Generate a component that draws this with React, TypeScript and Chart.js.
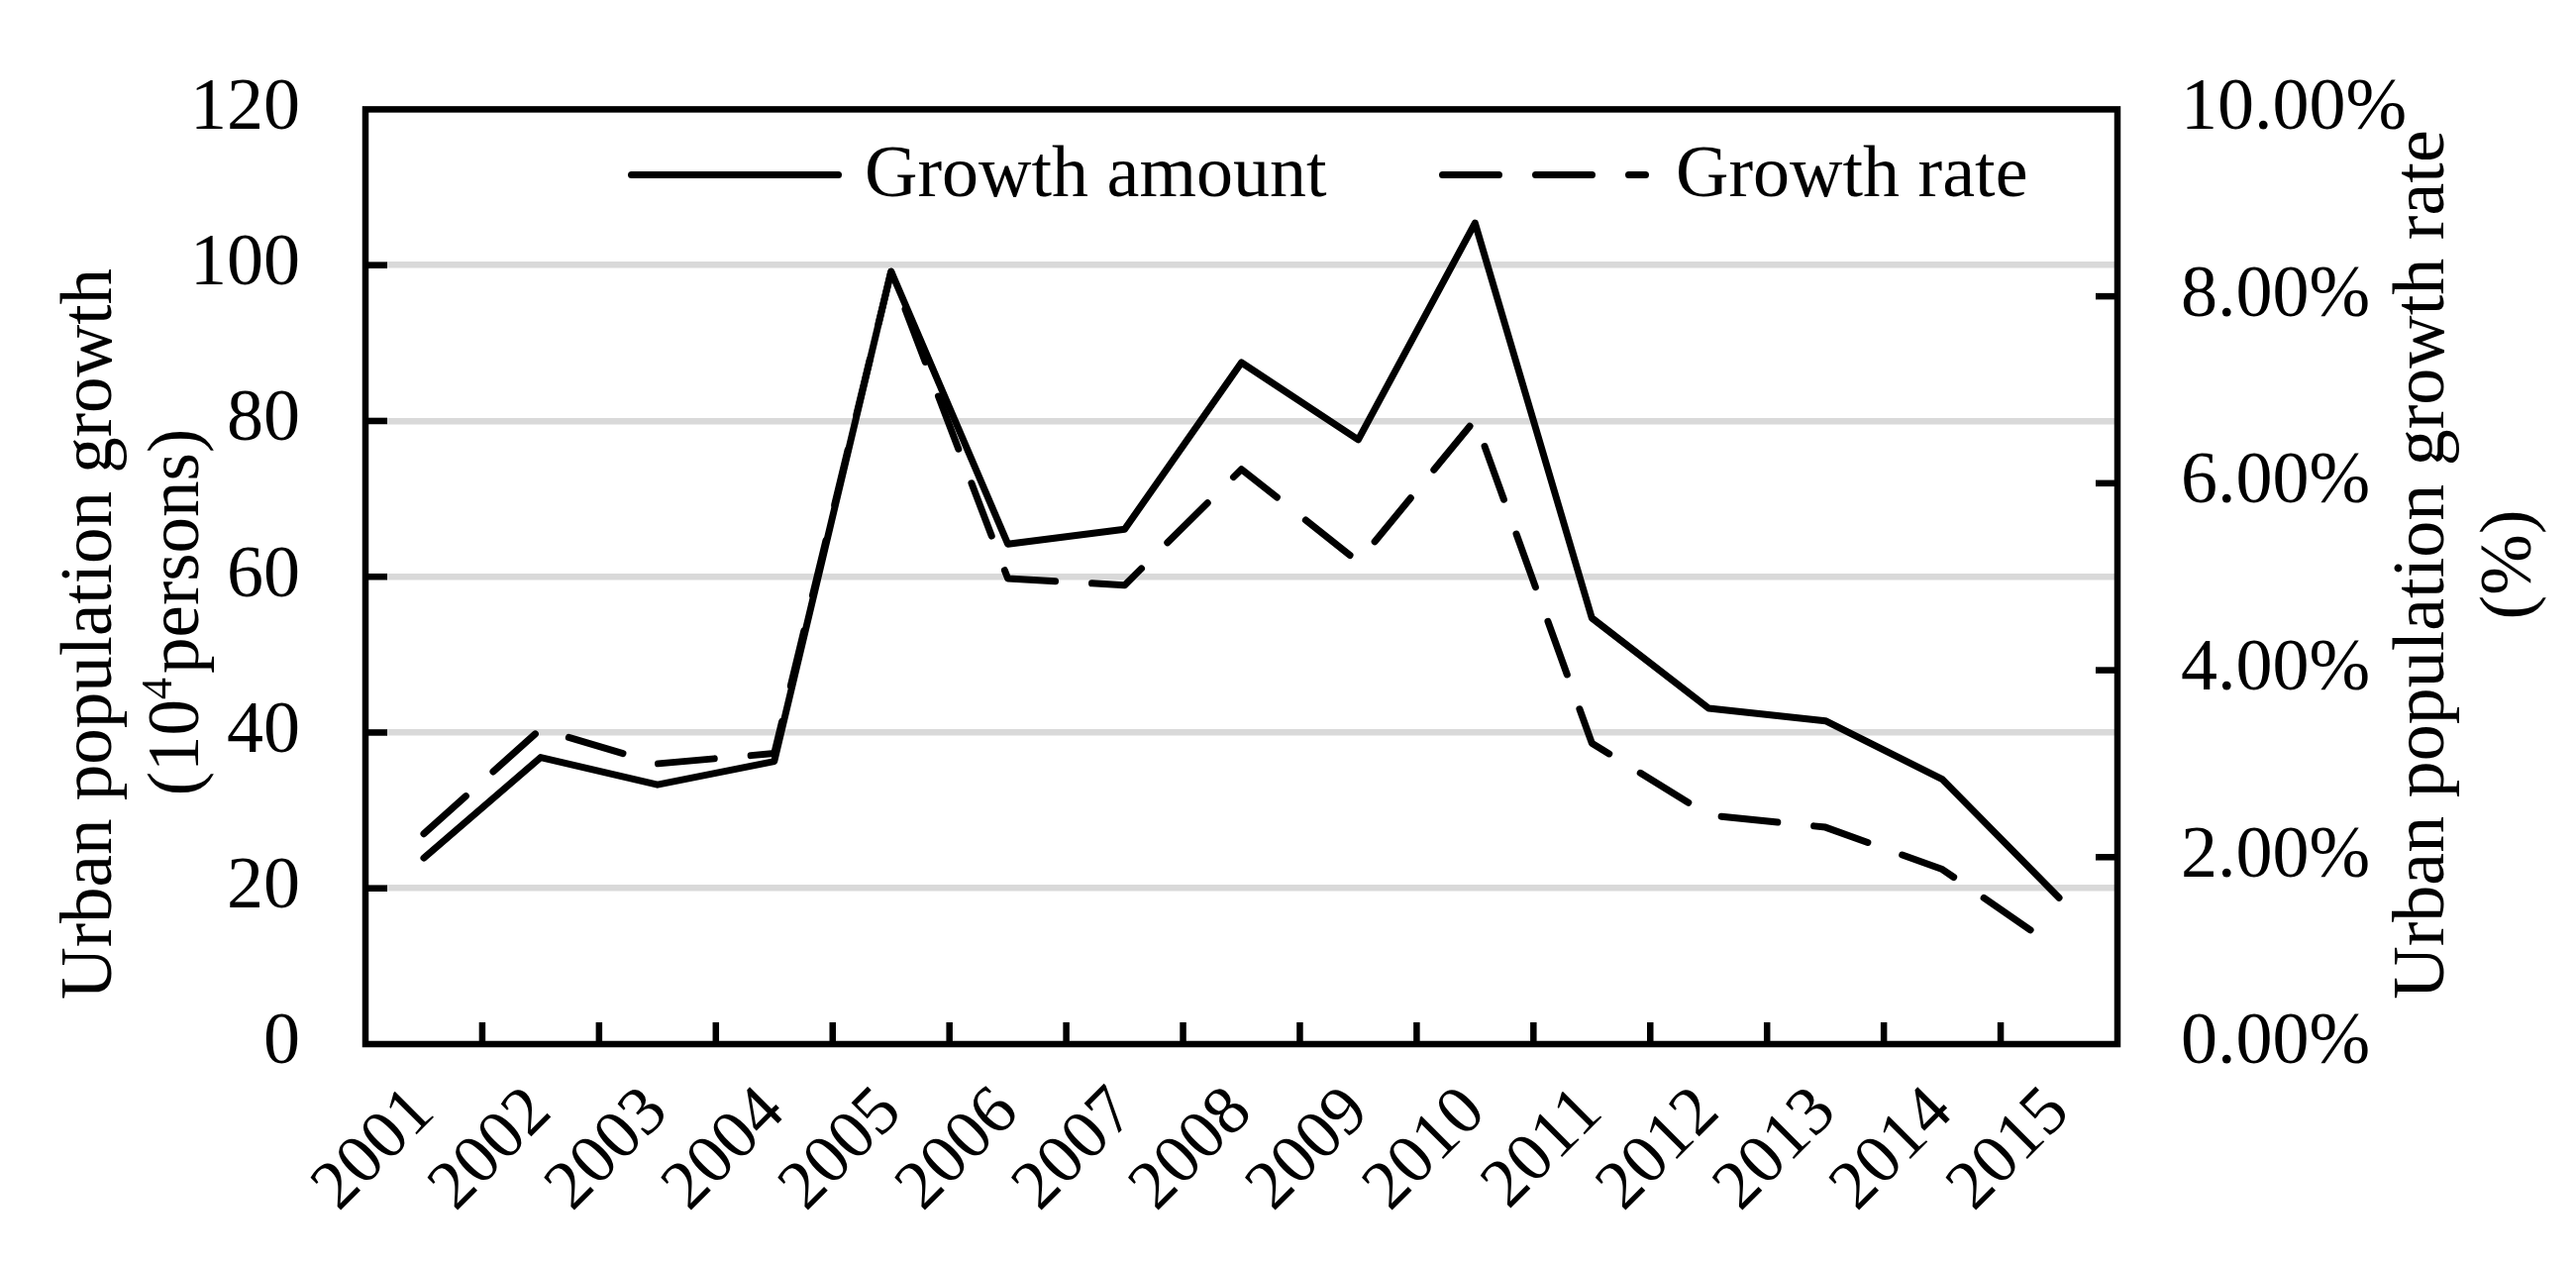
import React, { useEffect, useRef } from 'react';
import { Chart, registerables } from 'chart.js';

Chart.register(...registerables);

// ---------- data ----------
const years = ['2001', '2002', '2003', '2004', '2005', '2006', '2007', '2008', '2009', '2010', '2011', '2012', '2013', '2014', '2015'];
const growthAmount = [23.9, 36.8, 33.3, 36.3, 99.2, 64.2, 66.1, 87.5, 77.6, 105.4, 54.7, 43.1, 41.5, 34.0, 18.8];
const growthRate = [2.25, 3.37, 3.0, 3.11, 8.26, 4.98, 4.91, 6.15, 5.16, 6.68, 3.22, 2.45, 2.32, 1.87, 1.01];
const seriesLabels = ['Growth amount', 'Growth rate'];
const leftAxisRange = [0, 120, 20];
const rightAxisRange = [0, 10, 2];
const leftTitleLine1 = 'Urban population growth';
const leftTitleLine2 = ['(10', '4', 'persons)'];
const rightTitleLines = ['Urban population growth rate', '(%)'];

const FONT = "'Liberation Serif', 'Times New Roman', serif";
const W = 2601;
const H = 1279;

const overlayPlugin = {
  id: 'overlay',
  afterDatasetsDraw(chart: any) {
    const { ctx, chartArea: ca, scales } = chart;
    const sx = scales.x;
    const sy = scales.y;
    const sy1 = scales.y1;
    const TL = 22;
    ctx.save();
    ctx.strokeStyle = '#000';
    ctx.lineWidth = 6.5;
    ctx.lineCap = 'butt';
    ctx.setLineDash([]);
    const seg = (x1: number, y1: number, x2: number, y2: number) => {
      ctx.beginPath();
      ctx.moveTo(x1, y1);
      ctx.lineTo(x2, y2);
      ctx.stroke();
    };
    sy.ticks.forEach((t: any) => {
      if (t.value > sy.min && t.value < sy.max) {
        const p = sy.getPixelForValue(t.value);
        seg(ca.left, p, ca.left + TL, p);
      }
    });
    sy1.ticks.forEach((t: any) => {
      if (t.value > sy1.min && t.value < sy1.max) {
        const p = sy1.getPixelForValue(t.value);
        seg(ca.right - TL, p, ca.right, p);
      }
    });
    for (let i = 1; i < years.length; i++) {
      const p = (sx.getPixelForValue(i - 1) + sx.getPixelForValue(i)) / 2;
      seg(p, ca.bottom - TL, p, ca.bottom);
    }
    ctx.lineJoin = 'miter';
    ctx.strokeRect(ca.left, ca.top, ca.right - ca.left, ca.bottom - ca.top);
    ctx.restore();
  },
  afterDraw(chart: any) {
    const { ctx, chartArea: ca } = chart;
    ctx.save();
    ctx.fillStyle = '#000';
    ctx.strokeStyle = '#000';

    // legend
    const ds = chart.data.datasets;
    const legendY = ca.top + 66;
    const textBase = ca.top + 88;
    const items = [
      { x1: 637.5, x2: 846.5, tx: 873 },
      { x1: 1456.5, x2: 1661.5, tx: 1692 },
    ];
    ctx.font = `74px ${FONT}`;
    ctx.textAlign = 'left';
    ctx.textBaseline = 'alphabetic';
    items.forEach((it, i) => {
      const d = ds[i];
      ctx.lineWidth = d.borderWidth;
      ctx.lineCap = 'round';
      ctx.setLineDash(d.borderDash || []);
      ctx.beginPath();
      ctx.moveTo(it.x1, legendY);
      ctx.lineTo(it.x2, legendY);
      ctx.stroke();
      ctx.setLineDash([]);
      ctx.fillText(d.label, it.tx, textBase);
    });

    // left axis title
    ctx.font = `73px ${FONT}`;
    ctx.save();
    ctx.translate(112, 640);
    ctx.rotate(-Math.PI / 2);
    ctx.textAlign = 'center';
    ctx.fillText(leftTitleLine1, 0, 0);
    ctx.restore();

    ctx.save();
    ctx.translate(200, 618);
    ctx.rotate(-Math.PI / 2);
    ctx.textAlign = 'left';
    ctx.font = `73px ${FONT}`;
    const wA = ctx.measureText(leftTitleLine2[0]).width;
    const wC = ctx.measureText(leftTitleLine2[2]).width;
    ctx.font = `44px ${FONT}`;
    const wB = ctx.measureText(leftTitleLine2[1]).width;
    const total = wA + wB + 4 + wC;
    let cx = -total / 2;
    ctx.font = `73px ${FONT}`;
    ctx.fillText(leftTitleLine2[0], cx, 0);
    cx += wA;
    ctx.font = `44px ${FONT}`;
    ctx.fillText(leftTitleLine2[1], cx, -27);
    cx += wB + 4;
    ctx.font = `73px ${FONT}`;
    ctx.fillText(leftTitleLine2[2], cx, 0);
    ctx.restore();

    // right axis title
    ctx.font = `74px ${FONT}`;
    ctx.textAlign = 'center';
    const rx = [2467, 2555];
    rightTitleLines.forEach((t, i) => {
      ctx.save();
      ctx.translate(rx[i], 570);
      ctx.rotate(-Math.PI / 2);
      ctx.fillText(t, 0, 0);
      ctx.restore();
    });
    ctx.restore();
  },
};

export default function App() {
  const ref = useRef<HTMLCanvasElement | null>(null);

  useEffect(() => {
    document.body.style.margin = '0';
    document.body.style.overflow = 'hidden';
    const canvas = ref.current;
    if (!canvas) return;
    Chart.defaults.font.family = FONT;
    Chart.defaults.color = '#000';
    const chart = new Chart(canvas, {
      type: 'line',
      data: {
        labels: years,
        datasets: [
          {
            label: seriesLabels[0],
            data: growthAmount,
            yAxisID: 'y',
            borderColor: '#000',
            backgroundColor: '#000',
            borderWidth: 7,
            pointRadius: 0,
            tension: 0,
            fill: false,
            borderJoinStyle: 'round',
            borderCapStyle: 'round',
          },
          {
            label: seriesLabels[1],
            data: growthRate,
            yAxisID: 'y1',
            borderColor: '#000',
            backgroundColor: '#000',
            borderWidth: 7,
            borderDash: [57, 37],
            pointRadius: 0,
            tension: 0,
            fill: false,
            borderJoinStyle: 'round',
            borderCapStyle: 'round',
          },
        ],
      },
      options: {
        responsive: false,
        maintainAspectRatio: false,
        devicePixelRatio: 1,
        animation: false,
        layout: { padding: { top: 84, left: 0, right: 0, bottom: 0 } },
        plugins: {
          legend: { display: false },
          title: { display: false },
          tooltip: { enabled: false },
        },
        scales: {
          x: {
            type: 'category',
            offset: true,
            grid: { display: false, drawTicks: false },
            border: { display: false },
            ticks: {
              autoSkip: false,
              minRotation: 45,
              maxRotation: 45,
              padding: 28,
              color: '#000',
              font: { size: 70, family: FONT },
            },
            afterFit: (s: any) => {
              s.height = H - 1054;
            },
          },
          y: {
            position: 'left',
            min: leftAxisRange[0],
            max: leftAxisRange[1],
            grid: {
              drawTicks: false,
              lineWidth: 6.5,
              color: (c: any) =>
                c.tick && (c.tick.value === leftAxisRange[0] || c.tick.value === leftAxisRange[1])
                  ? 'rgba(0,0,0,0)'
                  : 'rgb(217,217,217)',
            },
            border: { display: false },
            ticks: {
              stepSize: leftAxisRange[2],
              padding: 66,
              color: '#000',
              font: { size: 74, family: FONT },
            },
            afterFit: (s: any) => {
              s.width = 369;
            },
          },
          y1: {
            position: 'right',
            min: rightAxisRange[0],
            max: rightAxisRange[1],
            grid: { display: false, drawTicks: false, drawOnChartArea: false },
            border: { display: false },
            ticks: {
              stepSize: rightAxisRange[2],
              padding: 64,
              color: '#000',
              font: { size: 74, family: FONT },
              callback: (v: any) => Number(v).toFixed(2) + '%',
            },
            afterFit: (s: any) => {
              s.width = W - 2138;
            },
          },
        },
      },
      plugins: [overlayPlugin],
    } as any);
    return () => {
      chart.destroy();
    };
  }, []);

  return (
    <div style={{ position: 'fixed', left: 0, top: 0, width: W, height: H, background: '#fff' }}>
      <canvas ref={ref} width={W} height={H} style={{ width: W, height: H, display: 'block' }} />
    </div>
  );
}
